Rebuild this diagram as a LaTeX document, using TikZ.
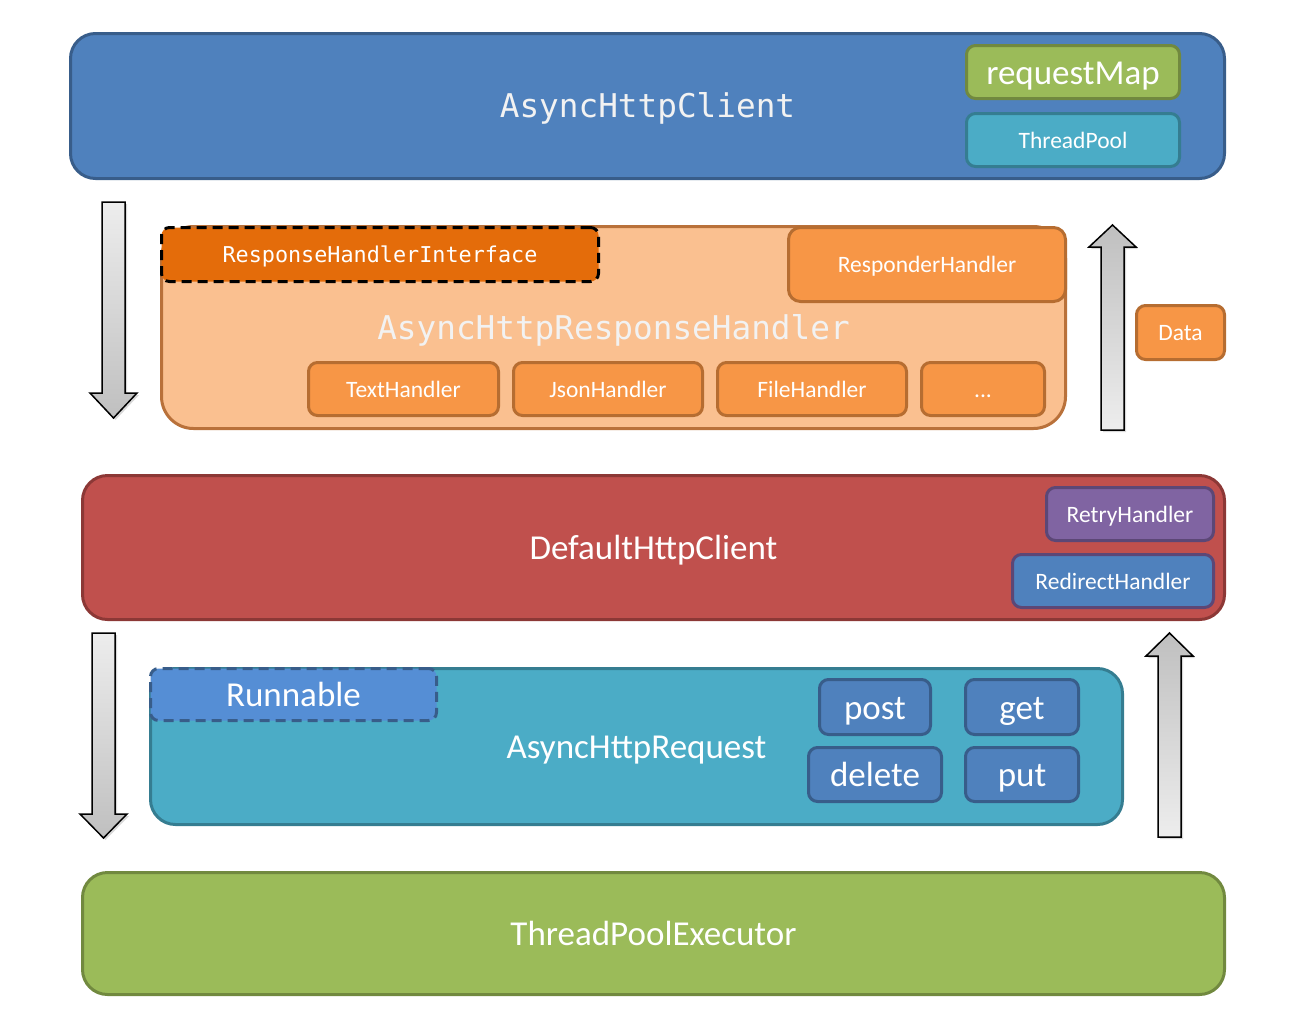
\documentclass[tikz,border=0pt]{standalone}
\usepackage{fontspec}
\setmainfont{Carlito}
\setmonofont{DejaVu Sans Mono}
\usepackage{xcolor}
\usepackage{tikz}
\usetikzlibrary{positioning, shadows}

\definecolor{blueF}{HTML}{4F81BD}
\definecolor{blueE}{HTML}{385D8A}
\definecolor{greenF}{HTML}{9BBB59}
\definecolor{greenE}{HTML}{71893F}
\definecolor{aquaF}{HTML}{4BACC6}
\definecolor{aquaE}{HTML}{357D91}
\definecolor{peachF}{HTML}{FAC090}
\definecolor{peachE}{HTML}{B9713A}
\definecolor{orangeF}{HTML}{F79646}
\definecolor{orangeE}{HTML}{B66D31}
\definecolor{rustF}{HTML}{E46C0A}
\definecolor{redF}{HTML}{C0504D}
\definecolor{redE}{HTML}{8C3836}
\definecolor{purpleF}{HTML}{8064A2}
\definecolor{purpleE}{HTML}{5C4776}
\definecolor{runF}{HTML}{558ED5}
\definecolor{paleText}{HTML}{F2F2F2}

\begin{document}
\begin{tikzpicture}[
        x=1pt, y=-1pt,
        node distance=12pt,
        layer/.style={
            draw, line width=3pt, rounded corners=25pt,
            inner sep=0pt, text=white,
            font=\fontsize{35}{40}\selectfont,
            text height=24.5pt, text depth=0pt
        },
        part/.style={
            draw, line width=3pt, rounded corners=9pt,
            inner sep=0pt, text=white,
            font=\fontsize{23.5}{28}\selectfont,
            text height=16.5pt, text depth=0pt
        },
        bigpart/.style={part, font=\fontsize{35}{40}\selectfont, text height=24.5pt},
        monobig/.style={font=\fontsize{32.7}{38}\ttfamily, text=paleText, text height=23pt},
        iface/.style={part, dash pattern=on 10pt off 6pt},
        flowdown/.style={
            draw=black, line width=1.5pt,
            top color=black!7, bottom color=black!25,
            drop shadow={shadow xshift=2pt, shadow yshift=-2pt, opacity=0.3}
        },
        flowup/.style={flowdown, top color=black!25, bottom color=black!7}
    ]
    \useasboundingbox (0,0) rectangle (1299,1013);

    % AsyncHttpClient layer
    \node[layer, fill=blueF, draw=blueE, minimum width=1154pt, minimum height=145pt,
          monobig] (Client) at (647.5,106) {AsyncHttpClient};
    \node[bigpart, fill=greenF, draw=greenE, minimum width=213pt, minimum height=53pt]
          (RequestMap) at (1073,72) {requestMap};
    \node[part, fill=aquaF, draw=aquaE, minimum width=213pt, minimum height=53pt,
          below=of RequestMap] (ThreadPool) {ThreadPool};

    % AsyncHttpResponseHandler layer
    \node[layer, rounded corners=32pt, fill=peachF, draw=peachE, minimum width=904pt,
          minimum height=202pt, monobig] (RespHandler) at (613.5,327.5) {AsyncHttpResponseHandler};
    \node[iface, fill=rustF, draw=black, rounded corners=8pt, minimum width=437pt,
          minimum height=54pt, font=\fontsize{21.8}{26}\ttfamily, text height=15.5pt]
          (HandlerIface) at (380,254.5) {ResponseHandlerInterface};
    \node[part, fill=orangeF, draw=orangeE, rounded corners=12pt, minimum width=277pt,
          minimum height=74pt] (Responder) at (927,264.5) {ResponderHandler};
    \node[part, fill=orangeF, draw=orangeE, minimum width=190pt, minimum height=53pt]
          (TextH) at (403.5,389) {TextHandler};
    \node[part, fill=orangeF, draw=orangeE, minimum width=189pt, minimum height=53pt,
          right=of TextH] (JsonH) {JsonHandler};
    \node[part, fill=orangeF, draw=orangeE, minimum width=189pt, minimum height=53pt,
          right=of JsonH] (FileH) {FileHandler};
    \node[part, fill=orangeF, draw=orangeE, minimum width=123pt, minimum height=53pt,
          right=of FileH] (MoreH) {...};
    \node[part, fill=orangeF, draw=orangeE, minimum width=88pt, minimum height=54pt]
          (Data) at (1180.5,332.5) {Data};

    % DefaultHttpClient layer
    \node[layer, fill=redF, draw=redE, minimum width=1142pt, minimum height=144pt]
          (Default) at (653.5,547.5) {DefaultHttpClient};
    \node[part, fill=purpleF, draw=purpleE, minimum width=167pt, minimum height=53pt]
          (Retry) at (1130,514) {RetryHandler};
    \node[part, fill=blueF, draw=purpleE, minimum width=201pt, minimum height=53pt,
          below left=11pt and 0pt of Retry.south east] (Redirect) {RedirectHandler};

    % AsyncHttpRequest layer
    \node[layer, fill=aquaF, draw=aquaE, minimum width=972pt, minimum height=156pt]
          (Request) at (636.5,746.5) {AsyncHttpRequest};
    \node[iface, bigpart, dash pattern=on 10pt off 6pt, fill=runF, draw=blueE,
          rounded corners=8pt, minimum width=286pt, minimum height=52pt]
          (Runnable) at (293.5,694.5) {Runnable};
    \node[bigpart, fill=blueF, draw=blueE, minimum width=111pt, minimum height=55pt]
          (Post) at (875,707) {post};
    \node[bigpart, fill=blueF, draw=blueE, minimum width=113pt, minimum height=55pt]
          (Get) at (1022,707) {get};
    \node[bigpart, fill=blueF, draw=blueE, minimum width=133pt, minimum height=54pt,
          below=10pt of Post] (Delete) {delete};
    \node[bigpart, fill=blueF, draw=blueE, minimum width=113pt, minimum height=54pt,
          below=10pt of Get] (Put) {put};

    % ThreadPoolExecutor layer
    \node[layer, fill=greenF, draw=greenE, minimum width=1142pt, minimum height=122pt]
          (Executor) at (653.5,933.5) {ThreadPoolExecutor};

    % flow arrows
    \draw[flowdown] (102,202) -- (125,202) -- (125,393) -- (137,393) -- (113.5,418)
        -- (90,393) -- (102,393) -- cycle;
    \draw[flowup] (1101,430) -- (1124,430) -- (1124,247) -- (1136,247) -- (1112.5,225)
        -- (1089,247) -- (1101,247) -- cycle;
    \draw[flowdown] (92,633) -- (115,633) -- (115,814) -- (127,814) -- (103.5,838)
        -- (80,814) -- (92,814) -- cycle;
    \draw[flowup] (1158,837) -- (1181,837) -- (1181,656) -- (1193,656) -- (1169.5,633)
        -- (1146,656) -- (1158,656) -- cycle;

\end{tikzpicture}
\end{document}
